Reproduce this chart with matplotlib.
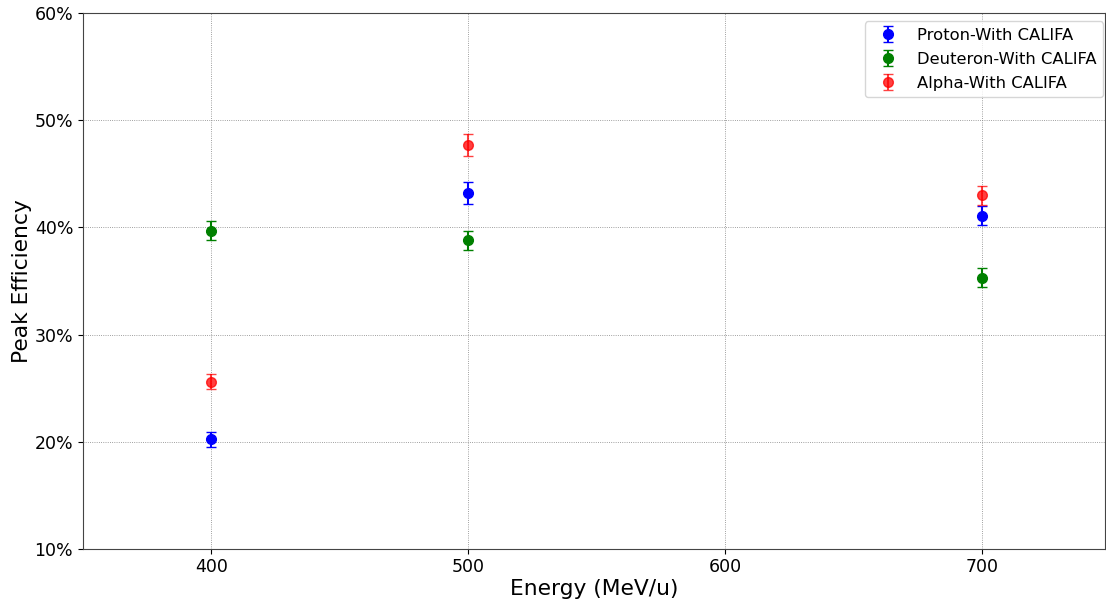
import numpy as np
import matplotlib.pyplot as plt
from matplotlib.ticker import PercentFormatter

# Energies (MeV/u)
energy = [400, 500, 700]

# Peak efficiencies (%) and uncertainties
proton = [20.2, 43.2, 41.1]
proton_err = [0.7, 1.0, 0.9]
deuteron = [39.7, 38.8, 35.3]
deuteron_err = [0.9, 0.9, 0.9]
alpha = [25.6, 47.7, 43.0]
alpha_err = [0.7, 1.0, 0.9]

fig, ax = plt.subplots(figsize=(11.06, 6.03), dpi=100)

ax.errorbar(energy, proton, yerr=proton_err, fmt='o', color='blue',
            capsize=3.5, markersize=7, label='Proton-With CALIFA')
ax.errorbar(energy, deuteron, yerr=deuteron_err, fmt='o', color='green',
            capsize=3.5, markersize=7, label='Deuteron-With CALIFA')
ax.errorbar(energy, alpha, yerr=alpha_err, fmt='o', color='red', alpha=0.75,
            capsize=3.5, markersize=7, label='Alpha-With CALIFA')

ax.set_xlim(350, 748)
ax.set_ylim(10, 60)
ax.set_xticks([400, 500, 600, 700])
ax.yaxis.set_major_formatter(PercentFormatter(decimals=0))
ax.tick_params(labelsize=12.5)
ax.set_xlabel('Energy (MeV/u)', fontsize=15.7, labelpad=2)
ax.set_ylabel('Peak Efficiency', fontsize=15.7, labelpad=2)
ax.grid(True, linestyle=':', color='gray', linewidth=0.6)
ax.legend(fontsize=11.8, loc='upper right', labelspacing=0.55,
          borderaxespad=0, bbox_to_anchor=(0.998, 0.985))

for s in ax.spines.values():
    s.set_color('#444444')

plt.subplots_adjust(left=0.075, right=0.9995, top=0.978, bottom=0.09)
plt.savefig('out.png')
